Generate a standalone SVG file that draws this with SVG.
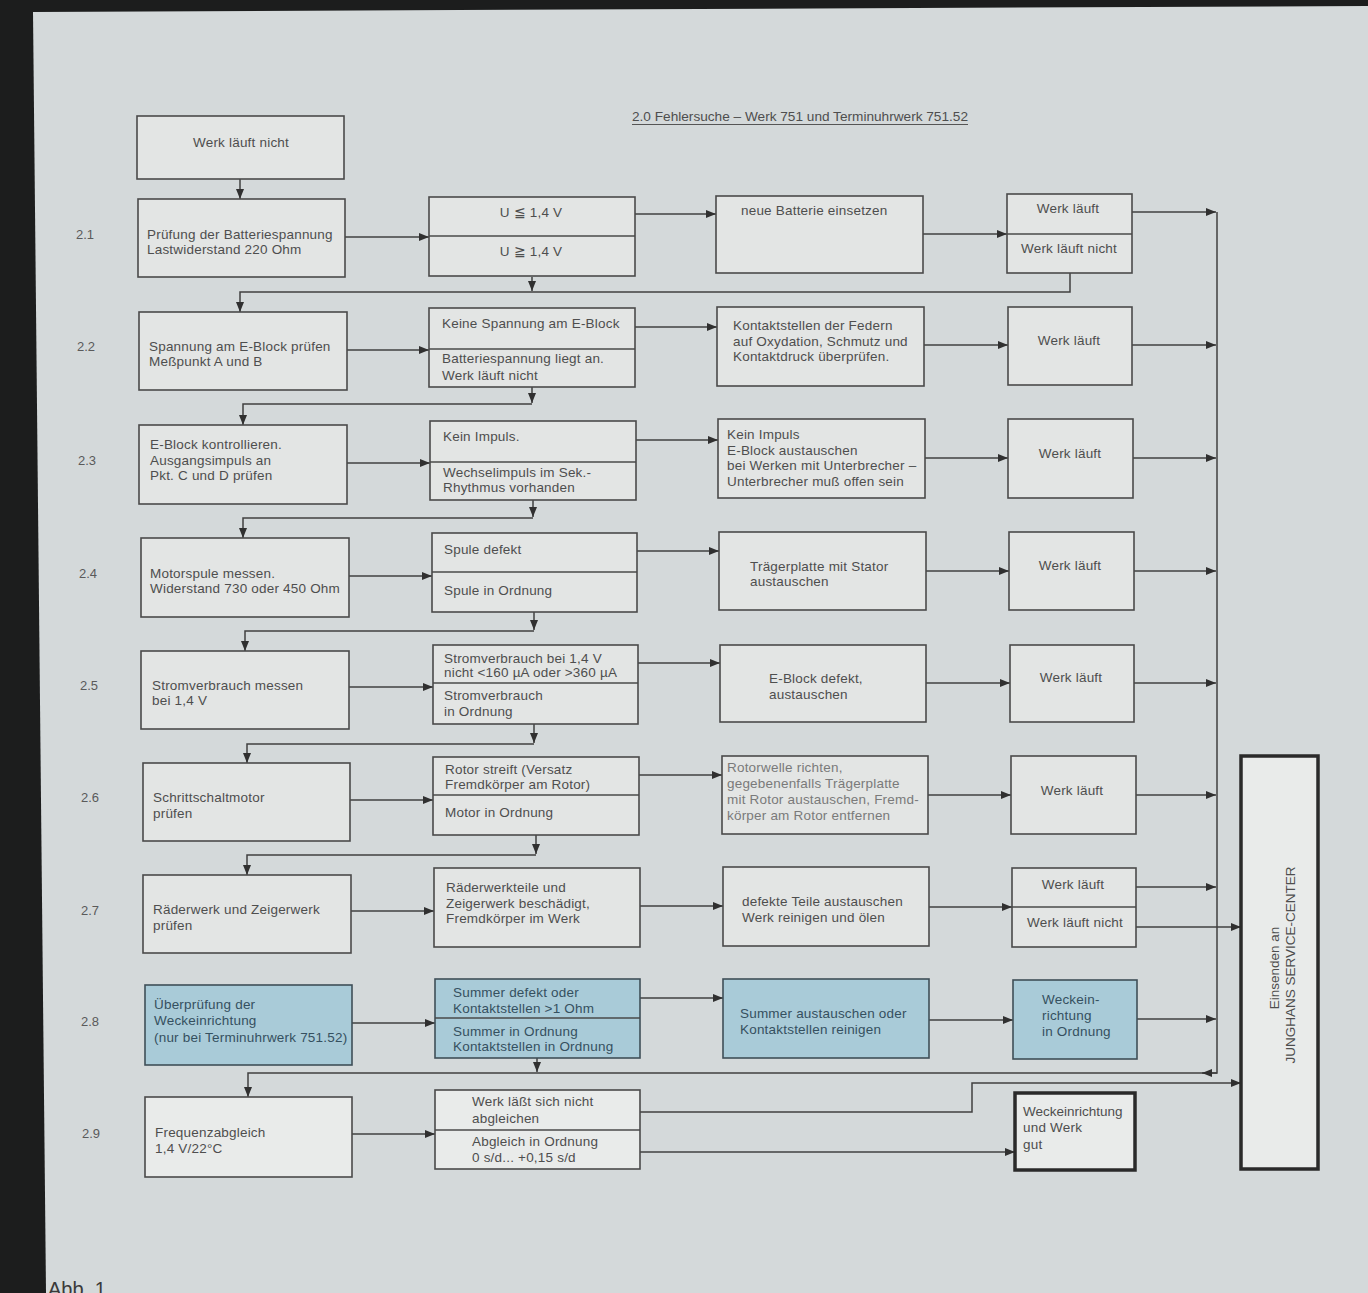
<svg xmlns="http://www.w3.org/2000/svg" width="1368" height="1293" viewBox="0 0 1368 1293">
<style>
.box{fill:#e3e5e4;stroke:#4a4a4a;stroke-width:1.6}
.blue{fill:#a9cbd8;stroke:#3f4f58}
.white{fill:#e9ebea}
.thick{stroke:#2a2a2a;stroke-width:3.5}
.sep{stroke:#4a4a4a;stroke-width:1.4}
.t{font-family:"Liberation Sans",Arial,sans-serif;font-size:13.5px;fill:#4e4e4e;letter-spacing:0.2px}
.tb{fill:#35505f}
.lt{fill:#7a7a7a}
.m{text-anchor:middle}
.num{font-family:"Liberation Sans",Arial,sans-serif;font-size:13px;fill:#5a5a5a}
.c{fill:none;stroke:#404040;stroke-width:1.5}
</style>
<defs>
<marker id="ah" viewBox="0 0 10 8" refX="10" refY="4" markerWidth="10" markerHeight="8" markerUnits="userSpaceOnUse" orient="auto">
<path d="M0,0 L10,4 L0,8 Z" fill="#303030"/>
</marker>
</defs>
<rect x="0" y="0" width="1368" height="1293" fill="#1c1d1d"/>
<polygon points="33,12 1368,6 1368,1293 46,1293" fill="#d4d9da"/>

<text class="t" x="632" y="121" textLength="336" lengthAdjust="spacingAndGlyphs" style="font-size:13px;letter-spacing:0">2.0 Fehlersuche – Werk 751 und Terminuhrwerk 751.52</text>
<line x1="632" y1="124.5" x2="968" y2="124.5" stroke="#555" stroke-width="1"/>

<g id="labels">
<text class="num" x="76" y="239">2.1</text>
<text class="num" x="77" y="351">2.2</text>
<text class="num" x="78" y="465">2.3</text>
<text class="num" x="79" y="578">2.4</text>
<text class="num" x="80" y="690">2.5</text>
<text class="num" x="81" y="802">2.6</text>
<text class="num" x="81" y="915">2.7</text>
<text class="num" x="81" y="1026">2.8</text>
<text class="num" x="82" y="1138">2.9</text>
</g>

<g id="connectors">
<path class="c" d="M240,179 V199" marker-end="url(#ah)"/>
<path class="c" d="M345,237 H429" marker-end="url(#ah)"/>
<path class="c" d="M635,214 H716" marker-end="url(#ah)"/>
<path class="c" d="M923,234 H1007" marker-end="url(#ah)"/>
<path class="c" d="M1132,212 H1216" marker-end="url(#ah)"/>
<path class="c" d="M1217,212 V1073 H248 V1097" marker-end="url(#ah)"/>
<path class="c" d="M1217,1073 H1202" marker-end="url(#ah)"/>
<path class="c" d="M532,277 V291" marker-end="url(#ah)"/>
<path class="c" d="M1070,273 V292 H240 V312" marker-end="url(#ah)"/>

<path class="c" d="M347,350 H429" marker-end="url(#ah)"/>
<path class="c" d="M635,327 H717" marker-end="url(#ah)"/>
<path class="c" d="M924,345 H1008" marker-end="url(#ah)"/>
<path class="c" d="M1132,345 H1216" marker-end="url(#ah)"/>
<path class="c" d="M532,387 V403" marker-end="url(#ah)"/>
<path class="c" d="M532,404 H243 V425" marker-end="url(#ah)"/>

<path class="c" d="M347,463 H430" marker-end="url(#ah)"/>
<path class="c" d="M636,440 H718" marker-end="url(#ah)"/>
<path class="c" d="M925,458 H1008" marker-end="url(#ah)"/>
<path class="c" d="M1133,458 H1216" marker-end="url(#ah)"/>
<path class="c" d="M533,500 V517" marker-end="url(#ah)"/>
<path class="c" d="M533,518 H243 V538" marker-end="url(#ah)"/>

<path class="c" d="M349,576 H432" marker-end="url(#ah)"/>
<path class="c" d="M637,551 H719" marker-end="url(#ah)"/>
<path class="c" d="M926,571 H1009" marker-end="url(#ah)"/>
<path class="c" d="M1134,571 H1216" marker-end="url(#ah)"/>
<path class="c" d="M534,612 V630" marker-end="url(#ah)"/>
<path class="c" d="M534,631 H245 V651" marker-end="url(#ah)"/>

<path class="c" d="M349,687 H433" marker-end="url(#ah)"/>
<path class="c" d="M638,663 H720" marker-end="url(#ah)"/>
<path class="c" d="M926,683 H1010" marker-end="url(#ah)"/>
<path class="c" d="M1134,683 H1216" marker-end="url(#ah)"/>
<path class="c" d="M534,724 V743" marker-end="url(#ah)"/>
<path class="c" d="M534,744 H247 V763" marker-end="url(#ah)"/>

<path class="c" d="M350,800 H433" marker-end="url(#ah)"/>
<path class="c" d="M639,775 H722" marker-end="url(#ah)"/>
<path class="c" d="M928,795 H1011" marker-end="url(#ah)"/>
<path class="c" d="M1136,795 H1216" marker-end="url(#ah)"/>
<path class="c" d="M536,835 V854" marker-end="url(#ah)"/>
<path class="c" d="M536,855 H247 V875" marker-end="url(#ah)"/>

<path class="c" d="M351,911 H434" marker-end="url(#ah)"/>
<path class="c" d="M640,906 H723" marker-end="url(#ah)"/>
<path class="c" d="M929,907 H1012" marker-end="url(#ah)"/>
<path class="c" d="M1136,887 H1216" marker-end="url(#ah)"/>
<path class="c" d="M1136,927 H1241" marker-end="url(#ah)"/>

<path class="c" d="M352,1023 H435" marker-end="url(#ah)"/>
<path class="c" d="M640,998 H723" marker-end="url(#ah)"/>
<path class="c" d="M929,1020 H1013" marker-end="url(#ah)"/>
<path class="c" d="M1137,1019 H1216" marker-end="url(#ah)"/>
<path class="c" d="M537,1058 V1072" marker-end="url(#ah)"/>

<path class="c" d="M352,1134 H435" marker-end="url(#ah)"/>
<path class="c" d="M640,1112 H972 V1083 H1241" marker-end="url(#ah)"/>
<path class="c" d="M640,1152 H1015" marker-end="url(#ah)"/>
</g>

<g id="n-start"><rect class="box" x="137" y="116" width="207" height="63"/><text class="t m" x="241" y="147">Werk läuft nicht</text></g>

<g id="n21-test"><rect class="box" x="138" y="199" width="207" height="78"/><text class="t" x="147" y="239">Prüfung der Batteriespannung</text><text class="t" x="147" y="254">Lastwiderstand 220 Ohm</text></g>
<g id="n21-result"><rect class="box" x="429" y="197" width="206" height="79"/><line class="sep" x1="429" y1="236" x2="635" y2="236"/><text class="t m" x="531" y="217">U ≦ 1,4 V</text><text class="t m" x="531" y="256">U ≧ 1,4 V</text></g>
<g id="n21-action"><rect class="box" x="716" y="196" width="207" height="77"/><text class="t" x="741" y="215">neue Batterie einsetzen</text></g>
<g id="n21-check"><rect class="box" x="1007" y="194" width="125" height="79"/><line class="sep" x1="1007" y1="234" x2="1132" y2="234"/><text class="t m" x="1068" y="213">Werk läuft</text><text class="t m" x="1069" y="253">Werk läuft nicht</text></g>

<g id="n22-test"><rect class="box" x="139" y="312" width="208" height="78"/><text class="t" x="149" y="351">Spannung am E-Block prüfen</text><text class="t" x="149" y="366">Meßpunkt A und B</text></g>
<g id="n22-result"><rect class="box" x="429" y="308" width="206" height="79"/><line class="sep" x1="429" y1="349" x2="635" y2="349"/><text class="t" x="442" y="328">Keine Spannung am E-Block</text><text class="t" x="442" y="363">Batteriespannung liegt an.</text><text class="t" x="442" y="380">Werk läuft nicht</text></g>
<g id="n22-action"><rect class="box" x="717" y="307" width="207" height="79"/><text class="t" x="733" y="330">Kontaktstellen der Federn</text><text class="t" x="733" y="346">auf Oxydation, Schmutz und</text><text class="t" x="733" y="361">Kontaktdruck überprüfen.</text></g>
<g id="n22-check"><rect class="box" x="1008" y="307" width="124" height="78"/><text class="t m" x="1069" y="345">Werk läuft</text></g>

<g id="n23-test"><rect class="box" x="139" y="425" width="208" height="79"/><text class="t" x="150" y="449">E-Block kontrollieren.</text><text class="t" x="150" y="465">Ausgangsimpuls an</text><text class="t" x="150" y="480">Pkt. C und D prüfen</text></g>
<g id="n23-result"><rect class="box" x="430" y="421" width="206" height="79"/><line class="sep" x1="430" y1="462" x2="636" y2="462"/><text class="t" x="443" y="441">Kein Impuls.</text><text class="t" x="443" y="477">Wechselimpuls im Sek.-</text><text class="t" x="443" y="492">Rhythmus vorhanden</text></g>
<g id="n23-action"><rect class="box" x="718" y="419" width="207" height="79"/><text class="t" x="727" y="439">Kein Impuls</text><text class="t" x="727" y="455">E-Block austauschen</text><text class="t" x="727" y="470">bei Werken mit Unterbrecher –</text><text class="t" x="727" y="486">Unterbrecher muß offen sein</text></g>
<g id="n23-check"><rect class="box" x="1008" y="419" width="125" height="79"/><text class="t m" x="1070" y="458">Werk läuft</text></g>

<g id="n24-test"><rect class="box" x="141" y="538" width="208" height="79"/><text class="t" x="150" y="578">Motorspule messen.</text><text class="t" x="150" y="593">Widerstand 730 oder 450 Ohm</text></g>
<g id="n24-result"><rect class="box" x="432" y="533" width="205" height="79"/><line class="sep" x1="432" y1="572" x2="637" y2="572"/><text class="t" x="444" y="554">Spule defekt</text><text class="t" x="444" y="595">Spule in Ordnung</text></g>
<g id="n24-action"><rect class="box" x="719" y="532" width="207" height="78"/><text class="t" x="750" y="571">Trägerplatte mit Stator</text><text class="t" x="750" y="586">austauschen</text></g>
<g id="n24-check"><rect class="box" x="1009" y="532" width="125" height="78"/><text class="t m" x="1070" y="570">Werk läuft</text></g>

<g id="n25-test"><rect class="box" x="141" y="651" width="208" height="78"/><text class="t" x="152" y="690">Stromverbrauch messen</text><text class="t" x="152" y="705">bei 1,4 V</text></g>
<g id="n25-result"><rect class="box" x="433" y="645" width="205" height="79"/><line class="sep" x1="433" y1="683" x2="638" y2="683"/><text class="t" x="444" y="663">Stromverbrauch bei 1,4 V</text><text class="t" x="444" y="677">nicht &lt;160 µA oder &gt;360 µA</text><text class="t" x="444" y="700">Stromverbrauch</text><text class="t" x="444" y="716">in Ordnung</text></g>
<g id="n25-action"><rect class="box" x="720" y="645" width="206" height="77"/><text class="t" x="769" y="683">E-Block defekt,</text><text class="t" x="769" y="699">austauschen</text></g>
<g id="n25-check"><rect class="box" x="1010" y="645" width="124" height="77"/><text class="t m" x="1071" y="682">Werk läuft</text></g>

<g id="n26-test"><rect class="box" x="143" y="763" width="207" height="78"/><text class="t" x="153" y="802">Schrittschaltmotor</text><text class="t" x="153" y="818">prüfen</text></g>
<g id="n26-result"><rect class="box" x="433" y="757" width="206" height="78"/><line class="sep" x1="433" y1="795" x2="639" y2="795"/><text class="t" x="445" y="774">Rotor streift (Versatz</text><text class="t" x="445" y="789">Fremdkörper am Rotor)</text><text class="t" x="445" y="817">Motor in Ordnung</text></g>
<g id="n26-action"><rect class="box" x="722" y="756" width="206" height="78"/><text class="t lt" x="727" y="772">Rotorwelle richten,</text><text class="t lt" x="727" y="788">gegebenenfalls Trägerplatte</text><text class="t lt" x="727" y="804">mit Rotor austauschen, Fremd-</text><text class="t lt" x="727" y="820">körper am Rotor entfernen</text></g>
<g id="n26-check"><rect class="box" x="1011" y="756" width="125" height="78"/><text class="t m" x="1072" y="795">Werk läuft</text></g>

<g id="n27-test"><rect class="box" x="143" y="875" width="208" height="78"/><text class="t" x="153" y="914">Räderwerk und Zeigerwerk</text><text class="t" x="153" y="930">prüfen</text></g>
<g id="n27-result"><rect class="box" x="434" y="868" width="206" height="79"/><text class="t" x="446" y="892">Räderwerkteile und</text><text class="t" x="446" y="908">Zeigerwerk beschädigt,</text><text class="t" x="446" y="923">Fremdkörper im Werk</text></g>
<g id="n27-action"><rect class="box" x="723" y="867" width="206" height="79"/><text class="t" x="742" y="906">defekte Teile austauschen</text><text class="t" x="742" y="922">Werk reinigen und ölen</text></g>
<g id="n27-check"><rect class="box" x="1012" y="868" width="124" height="79"/><line class="sep" x1="1012" y1="907" x2="1136" y2="907"/><text class="t m" x="1073" y="889">Werk läuft</text><text class="t m" x="1075" y="927">Werk läuft nicht</text></g>

<g id="n28-test"><rect class="box blue" x="145" y="985" width="207" height="80"/><text class="t tb" x="154" y="1009">Überprüfung der</text><text class="t tb" x="154" y="1025">Weckeinrichtung</text><text class="t tb" x="154" y="1042">(nur bei Terminuhrwerk 751.52)</text></g>
<g id="n28-result"><rect class="box blue" x="435" y="979" width="205" height="79"/><line class="sep" x1="435" y1="1018" x2="640" y2="1018"/><text class="t tb" x="453" y="997">Summer defekt oder</text><text class="t tb" x="453" y="1013">Kontaktstellen &gt;1 Ohm</text><text class="t tb" x="453" y="1036">Summer in Ordnung</text><text class="t tb" x="453" y="1051">Kontaktstellen in Ordnung</text></g>
<g id="n28-action"><rect class="box blue" x="723" y="979" width="206" height="79"/><text class="t tb" x="740" y="1018">Summer austauschen oder</text><text class="t tb" x="740" y="1034">Kontaktstellen reinigen</text></g>
<g id="n28-check"><rect class="box blue" x="1013" y="980" width="124" height="79"/><text class="t tb" x="1042" y="1004">Weckein-</text><text class="t tb" x="1042" y="1020">richtung</text><text class="t tb" x="1042" y="1036">in Ordnung</text></g>

<g id="n29-test"><rect class="box white" x="145" y="1097" width="207" height="80"/><text class="t" x="155" y="1137">Frequenzabgleich</text><text class="t" x="155" y="1153">1,4 V/22°C</text></g>
<g id="n29-result"><rect class="box white" x="435" y="1090" width="205" height="79"/><line class="sep" x1="435" y1="1130" x2="640" y2="1130"/><text class="t" x="472" y="1106">Werk läßt sich nicht</text><text class="t" x="472" y="1123">abgleichen</text><text class="t" x="472" y="1146">Abgleich in Ordnung</text><text class="t" x="472" y="1162">0 s/d... +0,15 s/d</text></g>
<g id="n29-ok"><rect class="box white thick" x="1015" y="1093" width="120" height="77"/><text class="t" x="1023" y="1116" style="letter-spacing:0">Weckeinrichtung</text><text class="t" x="1023" y="1132">und Werk</text><text class="t" x="1023" y="1149">gut</text></g>

<g id="n-service"><rect class="box white thick" x="1241" y="756" width="77" height="413"/><text class="t m" transform="translate(1279,968) rotate(-90)" style="letter-spacing:0">Einsenden an</text><text class="t m" transform="translate(1295,965) rotate(-90)" style="letter-spacing:0">JUNGHANS SERVICE-CENTER</text></g>

<text x="48" y="1296" style="font-family:'Liberation Sans',Arial,sans-serif;font-size:20px;fill:#3a3a3a">Abb. 1</text>
</svg>
